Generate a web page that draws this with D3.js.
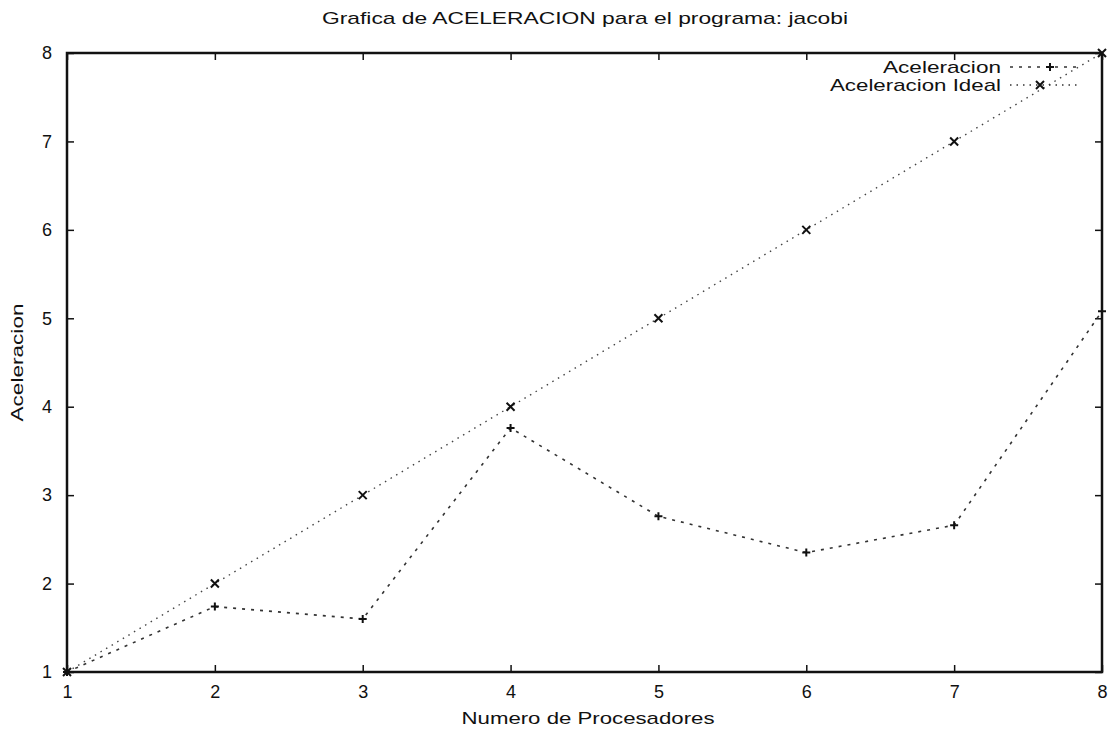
<!DOCTYPE html>
<html>
<head>
<meta charset="utf-8">
<script src="https://cdn.jsdelivr.net/npm/d3@7"></script>
<style>
  body { margin: 0; background: #fff; }
  svg { display: block; font-family: "Liberation Sans", Arial, sans-serif; }
</style>
</head>
<body>
<svg id="chart" width="1113" height="739"></svg>
<script>
// Speed-up measurements for the jacobi program
const procesadores = [1, 2, 3, 4, 5, 6, 7, 8];
const aceleracion = [1.0, 1.74, 1.6, 3.76, 2.76, 2.35, 2.66, 5.08];
const aceleracionIdeal = [1, 2, 3, 4, 5, 6, 7, 8];
const xTicks = [1, 2, 3, 4, 5, 6, 7, 8];
const yTicks = [1, 2, 3, 4, 5, 6, 7, 8];
const seriesNames = ["Aceleracion", "Aceleracion Ideal"];

const svg = d3.select("#chart");
const margin = { left: 67, right: 11, top: 53, bottom: 67 };
const W = 1113, H = 739;
const FS = 17;

const x = d3.scaleLinear().domain([1, 8]).range([margin.left, W - margin.right]);
const y = d3.scaleLinear().domain([1, 8]).range([H - margin.bottom, margin.top]);

const ink = "#111";

// Title
svg.append("text")
  .attr("x", 585).attr("y", 24)
  .attr("text-anchor", "middle")
  .attr("font-size", FS).attr("fill", ink)
  .attr("textLength", 526).attr("lengthAdjust", "spacingAndGlyphs")
  .text("Grafica de ACELERACION para el programa: jacobi");

// Axes with inward ticks and mirrored ticks
const xAxis = d3.axisBottom(x).tickValues(xTicks).tickSize(-7).tickPadding(13).tickFormat(d3.format("d"));
const yAxis = d3.axisLeft(y).tickValues(yTicks).tickSize(-7).tickPadding(15).tickFormat(d3.format("d"));

const gx = svg.append("g").attr("transform", `translate(0,${y(1)})`).call(xAxis);
const gy = svg.append("g").attr("transform", `translate(${x(1)},0)`).call(yAxis);
[gx, gy].forEach(g => {
  g.select(".domain").remove();
  g.selectAll("line").attr("stroke", ink).attr("stroke-width", 1.5);
  g.selectAll("text").attr("font-size", FS + 1).attr("fill", ink).attr("font-family", "Liberation Sans, Arial, sans-serif");
});

svg.append("g").attr("transform", `translate(0,${y(8)})`)
  .call(d3.axisTop(x).tickValues(xTicks).tickSize(-7).tickFormat(""))
  .call(g => { g.select(".domain").remove(); g.selectAll("line").attr("stroke", ink).attr("stroke-width", 1.5); });
svg.append("g").attr("transform", `translate(${x(8)},0)`)
  .call(d3.axisRight(y).tickValues(yTicks).tickSize(-7).tickFormat(""))
  .call(g => { g.select(".domain").remove(); g.selectAll("line").attr("stroke", ink).attr("stroke-width", 1.5); });

// Frame
svg.append("rect")
  .attr("x", x(1)).attr("y", y(8))
  .attr("width", x(8) - x(1)).attr("height", y(1) - y(8))
  .attr("fill", "none").attr("stroke", ink).attr("stroke-width", 2.5);

// Axis titles
svg.append("text")
  .attr("x", 588).attr("y", 724)
  .attr("text-anchor", "middle").attr("font-size", FS).attr("fill", ink)
  .attr("textLength", 253).attr("lengthAdjust", "spacingAndGlyphs")
  .text("Numero de Procesadores");
svg.append("text")
  .attr("transform", `translate(23,${(y(1) + y(8)) / 2}) rotate(-90)`)
  .attr("text-anchor", "middle").attr("font-size", FS).attr("fill", ink)
  .attr("textLength", 118).attr("lengthAdjust", "spacingAndGlyphs")
  .text("Aceleracion");

// Series lines
const line = d3.line().x(d => x(d[0])).y(d => y(d[1]));
const medido = procesadores.map((p, i) => [p, aceleracion[i]]);
const ideal = procesadores.map((p, i) => [p, aceleracionIdeal[i]]);

svg.append("path").datum(medido)
  .attr("d", line).attr("fill", "none")
  .attr("stroke", "#333").attr("stroke-width", 1.6)
  .attr("stroke-dasharray", "3,6");
svg.append("path").datum(ideal)
  .attr("d", line).attr("fill", "none")
  .attr("stroke", "#444").attr("stroke-width", 1.4)
  .attr("stroke-dasharray", "1.5,5");

// Point markers
function plus(g, cx, cy, s) {
  g.append("path").attr("d", `M${cx - s},${cy}H${cx + s}M${cx},${cy - s}V${cy + s}`)
    .attr("stroke", ink).attr("stroke-width", 2);
}
function cross(g, cx, cy, s) {
  g.append("path").attr("d", `M${cx - s},${cy - s}L${cx + s},${cy + s}M${cx - s},${cy + s}L${cx + s},${cy - s}`)
    .attr("stroke", ink).attr("stroke-width", 2);
}
const marks = svg.append("g");
medido.forEach(d => plus(marks, x(d[0]), y(d[1]), 4));
ideal.forEach(d => cross(marks, x(d[0]), y(d[1]), 4));

// Legend
const legend = svg.append("g");
const legendRows = [
  { name: seriesNames[0], len: 118, dash: "3,6", w: 1.6, marker: plus, mx: 1050 },
  { name: seriesNames[1], len: 171, dash: "1.5,5", w: 1.4, marker: cross, mx: 1040 }
];
legendRows.forEach((r, i) => {
  const ly = 67 + i * 18;
  legend.append("text")
    .attr("x", 1001).attr("y", ly + 6)
    .attr("text-anchor", "end").attr("font-size", FS).attr("fill", ink)
    .attr("textLength", r.len).attr("lengthAdjust", "spacingAndGlyphs")
    .text(r.name);
  legend.append("line")
    .attr("x1", 1010).attr("x2", 1080).attr("y1", ly).attr("y2", ly)
    .attr("stroke", "#333").attr("stroke-width", r.w).attr("stroke-dasharray", r.dash);
  r.marker(legend, r.mx, ly, 4);
});
</script>
</body>
</html>
